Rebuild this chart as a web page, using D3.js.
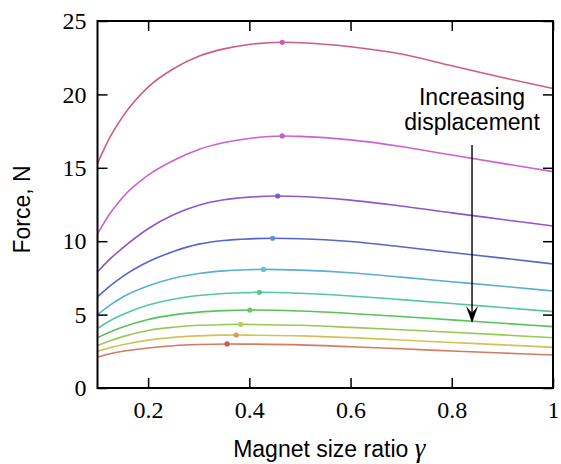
<!DOCTYPE html>
<html>
<head>
<meta charset="utf-8">
<script src="https://cdn.jsdelivr.net/npm/d3@7"></script>
<style>
  body { margin: 0; background: #fff; }
  svg { display: block; }
</style>
</head>
<body>
<div id="chart"></div>
<script>
var gammaGrid = [0.1, 0.125, 0.15, 0.2, 0.25, 0.3, 0.35, 0.4, 0.5, 0.6, 0.7, 0.8, 0.9, 1.0];

// force per curve, bottom (smallest) to top
var force1  = [2.10, 2.33, 2.50, 2.73, 2.88, 2.96, 3.00, 2.99, 2.94, 2.81, 2.67, 2.52, 2.38, 2.25];
var force2  = [2.50, 2.75, 2.95, 3.26, 3.45, 3.55, 3.60, 3.60, 3.55, 3.43, 3.27, 3.10, 2.94, 2.77];
var force3  = [2.90, 3.22, 3.50, 3.92, 4.14, 4.27, 4.32, 4.33, 4.27, 4.13, 3.97, 3.80, 3.62, 3.42];
var force4  = [3.43, 3.82, 4.15, 4.67, 4.98, 5.17, 5.27, 5.31, 5.25, 5.08, 4.87, 4.64, 4.41, 4.18];
var force5  = [4.05, 4.58, 5.00, 5.65, 6.05, 6.30, 6.44, 6.50, 6.45, 6.27, 6.02, 5.76, 5.48, 5.20];
var force6  = [5.00, 5.65, 6.20, 6.95, 7.47, 7.80, 7.98, 8.06, 8.03, 7.85, 7.55, 7.24, 6.93, 6.61];
var force7  = [6.20, 6.95, 7.60, 8.60, 9.30, 9.80, 10.05, 10.16, 10.17, 9.98, 9.62, 9.23, 8.85, 8.45];
var force8  = [7.92, 8.80, 9.55, 10.85, 11.80, 12.45, 12.82, 13.00, 13.05, 12.80, 12.40, 11.93, 11.48, 11.03];
var force9  = [10.5, 11.9, 13.0, 14.5, 15.5, 16.25, 16.72, 17.00, 17.14, 16.90, 16.45, 15.87, 15.30, 14.74];
var force10 = [15.3, 17.1, 18.5, 20.5, 21.75, 22.6, 23.1, 23.4, 23.52, 23.25, 22.75, 21.95, 21.15, 20.40];
var allForces = [force1, force2, force3, force4, force5, force6, force7, force8, force9, force10];

// maximum of each curve (marked with a dot)
var peakGamma = [0.356, 0.374, 0.383, 0.401, 0.420, 0.428, 0.446, 0.456, 0.465, 0.465];
var peakForce = [3.00, 3.61, 4.34, 5.31, 6.52, 8.08, 10.20, 13.08, 17.17, 23.55];

var lineColors = ["#d47a5e", "#d2c25a", "#98c855", "#55c25a", "#55c8a0",
                  "#5aaed0", "#5565d0", "#9055d0", "#d060d0", "#d05a88"];
var dotColors  = ["#c85a5a", "#d0a060", "#c0c860", "#70c860", "#5ac888",
                  "#5ac8d0", "#6090d8", "#7060d0", "#c060d0", "#c860b0"];

var xTicks = [0.2, 0.4, 0.6, 0.8, 1];
var xTickLabels = ["0.2", "0.4", "0.6", "0.8", "1"];
var yTicks = [0, 5, 10, 15, 20, 25];

// arrow annotation (gamma, force from / to)
var arrowGamma = 0.84, arrowFrom = 16.55, arrowTo = 4.43;

var W = 561, H = 464;
var margin = {top: 21, right: 8, bottom: 76, left: 97.5};

var svg = d3.select("#chart").append("svg")
    .attr("width", W).attr("height", H);

var x = d3.scaleLinear().domain([0.1, 1]).range([margin.left, W - margin.right]);
var y = d3.scaleLinear().domain([0, 25]).range([H - margin.bottom, margin.top]);

var serif = "'Liberation Serif', 'DejaVu Serif', serif";
var sans = "'Liberation Sans', Arial, sans-serif";

// curves
var line = d3.line()
    .x(function(d) { return x(d[0]); })
    .y(function(d) { return y(d[1]); })
    .curve(d3.curveMonotoneX);

allForces.forEach(function(f, i) {
    // grid points too close to the peak are dropped, the peak itself goes in
    var pts = [];
    gammaGrid.forEach(function(g, j) {
        if (Math.abs(g - peakGamma[i]) > 0.015) pts.push([g, f[j]]);
    });
    pts.push([peakGamma[i], peakForce[i]]);
    pts.sort(function(a, b) { return a[0] - b[0]; });
    svg.append("path")
        .datum(pts)
        .attr("fill", "none")
        .attr("stroke", lineColors[i])
        .attr("stroke-width", 1.6)
        .attr("d", line);
});

svg.selectAll(".peak")
    .data(peakGamma)
    .enter().append("circle")
    .attr("class", "peak")
    .attr("cx", function(d) { return x(d); })
    .attr("cy", function(d, i) { return y(peakForce[i]); })
    .attr("r", 2.6)
    .attr("fill", function(d, i) { return dotColors[i]; });

// axes with inward ticks
var xAxis = svg.append("g")
    .attr("transform", "translate(0," + y(0) + ")")
    .call(d3.axisBottom(x).tickValues(xTicks)
        .tickFormat(function(d, i) { return xTickLabels[i]; })
        .tickSizeInner(-10).tickSizeOuter(0).tickPadding(13));
var yAxis = svg.append("g")
    .attr("transform", "translate(" + x(0.1) + ",0)")
    .call(d3.axisLeft(y).tickValues(yTicks)
        .tickSizeInner(-10).tickSizeOuter(0).tickPadding(11));
var xTop = svg.append("g")
    .attr("transform", "translate(0," + y(25) + ")")
    .call(d3.axisTop(x).tickValues(xTicks).tickFormat("")
        .tickSizeInner(-10).tickSizeOuter(0));
var yRight = svg.append("g")
    .attr("transform", "translate(" + x(1) + ",0)")
    .call(d3.axisRight(y).tickValues(yTicks).tickFormat("")
        .tickSizeInner(-10).tickSizeOuter(0));

[xAxis, yAxis, xTop, yRight].forEach(function(a) {
    a.select(".domain").remove();
    a.selectAll(".tick line").attr("stroke", "#000").attr("stroke-width", 1.5);
    a.selectAll(".tick text").attr("fill", "#000")
        .style("font-family", serif).style("font-size", "24px");
});

svg.append("rect")
    .attr("x", x(0.1)).attr("y", y(25))
    .attr("width", x(1) - x(0.1)).attr("height", y(0) - y(25))
    .attr("fill", "none").attr("stroke", "#000").attr("stroke-width", 2);

// axis titles
var xt = svg.append("text")
    .attr("x", (x(0.1) + x(1)) / 2 + 4)
    .attr("y", H - 7)
    .attr("text-anchor", "middle")
    .style("font-family", sans).style("font-size", "23px");
xt.append("tspan").text("Magnet size ratio ");
xt.append("tspan").style("font-family", serif).style("font-style", "italic")
    .style("font-size", "27px").text("γ");

svg.append("text")
    .attr("transform", "translate(30," + ((y(0) + y(25)) / 2 + 5) + ") rotate(-90)")
    .attr("text-anchor", "middle")
    .style("font-family", sans).style("font-size", "23px")
    .text("Force, N");

// annotation arrow
var ax = x(arrowGamma), ay0 = y(arrowFrom), ay1 = y(arrowTo);
svg.append("line")
    .attr("x1", ax).attr("x2", ax)
    .attr("y1", ay0).attr("y2", ay1 - 8)
    .attr("stroke", "#000").attr("stroke-width", 1.4);
svg.append("path")
    .attr("d", "M" + ax + "," + ay1 + " L" + (ax - 6) + "," + (ay1 - 17) +
               " L" + ax + "," + (ay1 - 10) + " L" + (ax + 6) + "," + (ay1 - 17) + " Z")
    .attr("fill", "#000");

svg.append("text")
    .attr("x", ax).attr("y", ay0 - 40)
    .attr("text-anchor", "middle")
    .style("font-family", sans).style("font-size", "23px")
    .text("Increasing");
svg.append("text")
    .attr("x", ax).attr("y", ay0 - 15)
    .attr("text-anchor", "middle")
    .style("font-family", sans).style("font-size", "23px")
    .text("displacement");
</script>
</body>
</html>
